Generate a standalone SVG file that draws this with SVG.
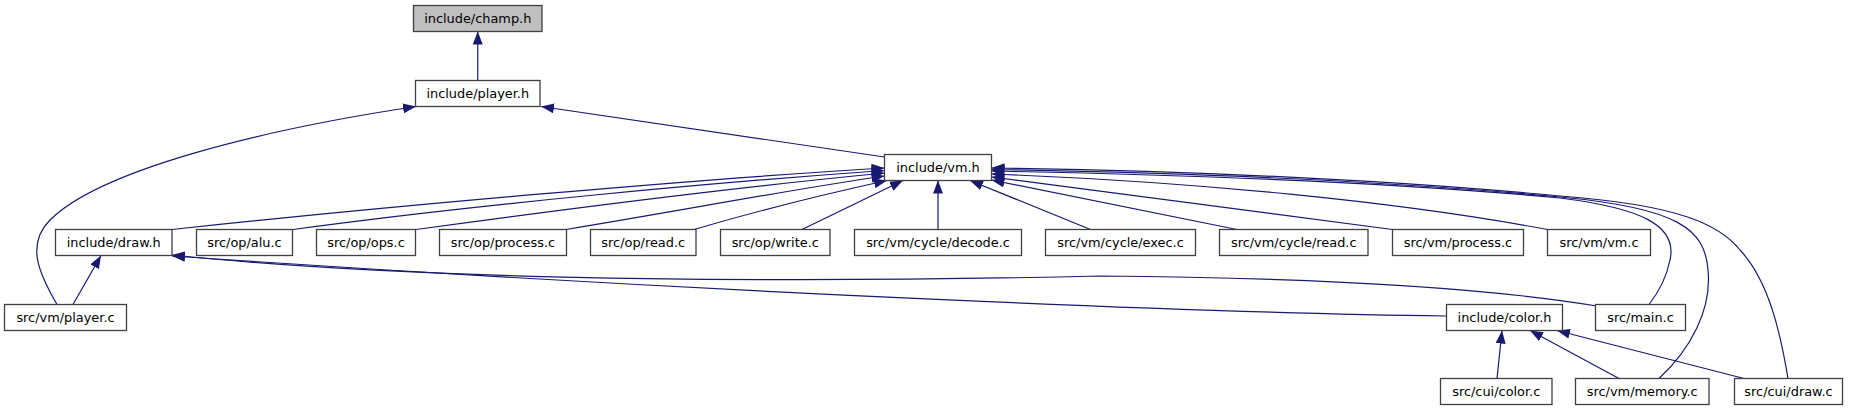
<svg xmlns="http://www.w3.org/2000/svg" width="1851" height="411" viewBox="0 0 1851 411">
<style>
.n rect{fill:#ffffff;stroke:#404040;stroke-width:1.3}
.n.root rect{fill:#bfbfbf}
.n text{font-family:"DejaVu Sans","Liberation Sans",sans-serif;font-size:12.9px;fill:#000;text-anchor:middle}
.e path{fill:none;stroke:#191970;stroke-width:1.2;marker-end:url(#arr)}
</style>
<defs>
<marker id="arr" markerUnits="userSpaceOnUse" markerWidth="14" markerHeight="10" refX="13" refY="5" orient="auto" viewBox="0 0 14 10">
<path d="M0,0 L13,5 L0,10 z" fill="#191970"/>
</marker>
</defs>
<rect width="1851" height="411" fill="#ffffff"/>
<g id="edges" class="e">
<path d="M477.75,80.5 L477.75,31.5"/>
<path d="M57,304.5 C40,275 25,245 50,220 C100,170 260,130 416,106.5"/>
<path d="M884.5,157 L541,106.5"/>
<path d="M73,304.5 L101,255.5"/>
<path d="M172,229.5 C400,205 700,179 884.5,168"/>
<path d="M293,229.5 C480,204 720,182 884.5,170.5"/>
<path d="M416,229.5 C580,207 760,185 884.5,173"/>
<path d="M566,229.5 C690,209 800,188 884.5,176"/>
<path d="M694,229.5 C760,210 830,193 887,180.5"/>
<path d="M802,229.5 L903,180.5"/>
<path d="M938,229.5 L938,180.5"/>
<path d="M1090.5,229.5 L970,180.5"/>
<path d="M1237,229.5 L991.5,180"/>
<path d="M1392.5,229.5 L991.5,177"/>
<path d="M1547.5,229.5 C1400,202 1200,182 991.5,174"/>
<path d="M1649,304.5 C1658,293 1666,280 1670,260 C1678,225 1640,208 1560,198 C1400,183 1200,175 991.5,171"/>
<path d="M1659,378.5 C1690,350 1712,310 1708,270 C1705,230 1680,208 1560,197 C1400,182 1200,173 991.5,169.5"/>
<path d="M1788,378.5 C1780,330 1768,280 1740,250 C1720,225 1680,205 1560,196 C1400,181 1200,171 991.5,168"/>
<path d="M1446.5,316 C1200,313 700,292 172,256"/>
<path d="M1597,306 C1500,290 1350,278 1100,276 C850,282 450,284 172,255"/>
<path d="M1497,378.5 L1502,330.5"/>
<path d="M1619,378.5 L1530,330.5"/>
<path d="M1744,378.5 L1557,330.5"/>
</g>
<g id="node-champ_h" class="n root"><rect x="413.5" y="5.5" width="128.5" height="26"/><text x="477.75" y="22.5">include/champ.h</text></g>
<g id="node-player_h" class="n"><rect x="415.5" y="80.5" width="124.5" height="26"/><text x="477.75" y="97.5">include/player.h</text></g>
<g id="node-vm_h" class="n"><rect x="884.5" y="154.5" width="107" height="26"/><text x="938" y="171.5">include/vm.h</text></g>
<g id="node-draw_h" class="n"><rect x="55.5" y="229.5" width="116.5" height="26"/><text x="113.75" y="246.5">include/draw.h</text></g>
<g id="node-op_alu_c" class="n"><rect x="196.5" y="229.5" width="96" height="26"/><text x="244.5" y="246.5">src/op/alu.c</text></g>
<g id="node-op_ops_c" class="n"><rect x="316.5" y="229.5" width="99" height="26"/><text x="366" y="246.5">src/op/ops.c</text></g>
<g id="node-op_process_c" class="n"><rect x="439.5" y="229.5" width="127" height="26"/><text x="503" y="246.5">src/op/process.c</text></g>
<g id="node-op_read_c" class="n"><rect x="590.5" y="229.5" width="105.5" height="26"/><text x="643.25" y="246.5">src/op/read.c</text></g>
<g id="node-op_write_c" class="n"><rect x="720.5" y="229.5" width="109.5" height="26"/><text x="775.25" y="246.5">src/op/write.c</text></g>
<g id="node-cycle_decode_c" class="n"><rect x="854.5" y="229.5" width="167" height="26"/><text x="938" y="246.5">src/vm/cycle/decode.c</text></g>
<g id="node-cycle_exec_c" class="n"><rect x="1045.5" y="229.5" width="150" height="26"/><text x="1120.5" y="246.5">src/vm/cycle/exec.c</text></g>
<g id="node-cycle_read_c" class="n"><rect x="1219.5" y="229.5" width="148.5" height="26"/><text x="1293.75" y="246.5">src/vm/cycle/read.c</text></g>
<g id="node-vm_process_c" class="n"><rect x="1392.5" y="229.5" width="131" height="26"/><text x="1458" y="246.5">src/vm/process.c</text></g>
<g id="node-vm_vm_c" class="n"><rect x="1547.5" y="229.5" width="103" height="26"/><text x="1599" y="246.5">src/vm/vm.c</text></g>
<g id="node-vm_player_c" class="n"><rect x="4.5" y="304.5" width="122" height="26"/><text x="65.5" y="321.5">src/vm/player.c</text></g>
<g id="node-color_h" class="n"><rect x="1446.5" y="304.5" width="116" height="26"/><text x="1504.5" y="321.5">include/color.h</text></g>
<g id="node-main_c" class="n"><rect x="1595.5" y="304.5" width="90" height="26"/><text x="1640.5" y="321.5">src/main.c</text></g>
<g id="node-cui_color_c" class="n"><rect x="1440.5" y="378.5" width="111.5" height="26"/><text x="1496.25" y="395.5">src/cui/color.c</text></g>
<g id="node-vm_memory_c" class="n"><rect x="1575.5" y="378.5" width="133.5" height="26"/><text x="1642.25" y="395.5">src/vm/memory.c</text></g>
<g id="node-cui_draw_c" class="n"><rect x="1734.5" y="378.5" width="108" height="26"/><text x="1788.5" y="395.5">src/cui/draw.c</text></g>
</svg>
